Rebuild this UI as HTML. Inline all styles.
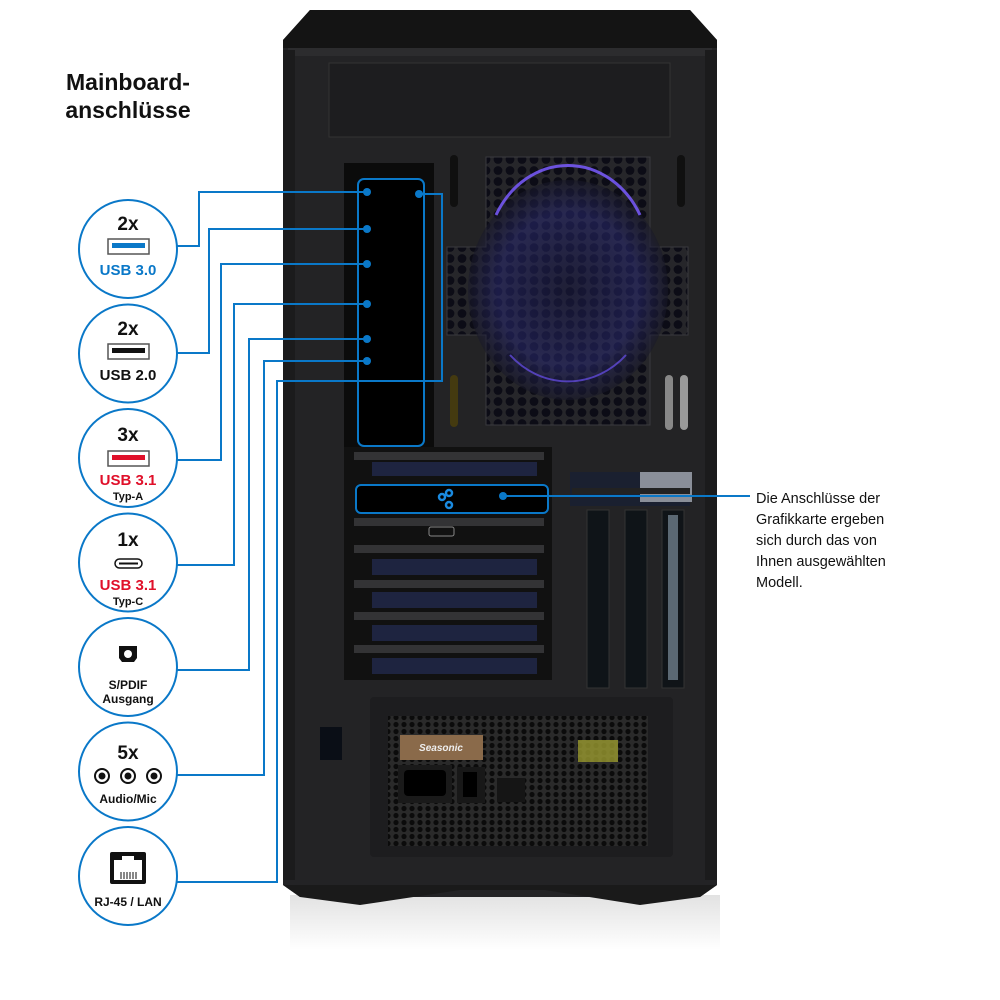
<!DOCTYPE html>
<html><head><meta charset="utf-8"><style>
body{margin:0;background:#fff;width:1000px;height:1000px;overflow:hidden}
svg{display:block;font-family:"Liberation Sans",sans-serif}
</style></head><body>
<svg width="1000" height="1000" viewBox="0 0 1000 1000" xmlns="http://www.w3.org/2000/svg">
<defs>
<pattern id="hex" width="12" height="11" patternUnits="userSpaceOnUse">
<rect width="12" height="11" fill="#26262a"/>
<circle cx="6" cy="5.5" r="4.4" fill="#0c0c16"/>
</pattern>
<pattern id="hex2" width="8" height="7" patternUnits="userSpaceOnUse">
<rect width="8" height="7" fill="#2a2a2a"/>
<circle cx="4" cy="3.5" r="2.6" fill="#0b0b0b"/>
</pattern>
<linearGradient id="shadow" x1="0" y1="0" x2="0" y2="1">
<stop offset="0" stop-color="#e2e2e2"/><stop offset="1" stop-color="#fff"/>
</linearGradient>
<radialGradient id="glow" cx="0.5" cy="0.5" r="0.5">
<stop offset="0" stop-color="#1a1a40"/><stop offset="0.7" stop-color="#2a2a70"/><stop offset="1" stop-color="#181828"/>
</radialGradient>
</defs>
<rect x="290" y="895" width="430" height="55" fill="url(#shadow)"/>
<path d="M283 40 L310 10 L690 10 L717 40 L717 885 L700 897 L300 897 L283 885 Z" fill="#232325"/>
<path d="M283 40 L310 10 L690 10 L717 40 L717 48 L283 48 Z" fill="#141414"/>
<rect x="288" y="48" width="424" height="8" fill="#2c2c2e"/>
<rect x="283" y="50" width="12" height="830" fill="#1b1b1c"/>
<rect x="705" y="50" width="12" height="830" fill="#1b1b1c"/>
<rect x="329" y="63" width="341" height="74" fill="#1d1d1f" stroke="#333" stroke-width="1"/>
<!-- fan grille -->
<path d="M486 157 L650 157 L650 247 L688 247 L688 335 L650 335 L650 425 L486 425 L486 335 L447 335 L447 247 L486 247 Z" fill="url(#hex)" stroke="#3a3a3e"/>
<ellipse cx="568" cy="290" rx="100" ry="110" fill="url(#glow)" opacity="0.55"/>
<path d="M496 215 A82 95 0 0 1 640 215" fill="none" stroke="#7a5cff" stroke-width="3" opacity="0.85"/>
<path d="M510 355 A82 90 0 0 0 626 355" fill="none" stroke="#6a50ee" stroke-width="2" opacity="0.7"/>
<rect x="450" y="155" width="8" height="52" rx="4" fill="#101010"/>
<rect x="677" y="155" width="8" height="52" rx="4" fill="#101010"/>
<rect x="665" y="375" width="8" height="55" rx="4" fill="#888"/>
<rect x="680" y="375" width="8" height="55" rx="4" fill="#999"/>
<rect x="450" y="375" width="8" height="52" rx="4" fill="#443a10"/>
<!-- IO opening -->
<rect x="344" y="163" width="90" height="284" fill="#0b0b0b"/>
<rect x="358" y="179" width="66" height="267" rx="6" fill="#000" stroke="#0a78c8" stroke-width="2"/>
<!-- PCI area -->
<rect x="344" y="447" width="208" height="233" fill="#111"/>
<g fill="#333335">
<rect x="354" y="452" width="190" height="8"/>
<rect x="354" y="518" width="190" height="8"/>
<rect x="354" y="545" width="190" height="8"/>
<rect x="354" y="580" width="190" height="8"/>
<rect x="354" y="612" width="190" height="8"/>
<rect x="354" y="645" width="190" height="8"/>
</g>
<g fill="#1e2440">
<rect x="372" y="462" width="165" height="14"/>
<rect x="372" y="559" width="165" height="16"/>
<rect x="372" y="592" width="165" height="16"/>
<rect x="372" y="625" width="165" height="16"/>
<rect x="372" y="658" width="165" height="16"/>
</g>
<rect x="356" y="485" width="192" height="28" rx="5" fill="#000" stroke="#0a78c8" stroke-width="2"/>
<g fill="none" stroke="#1a8ae0" stroke-width="2.5">
<circle cx="442" cy="497" r="3"/><circle cx="449" cy="493" r="3"/><circle cx="449" cy="505" r="3"/>
</g>
<rect x="429" y="527" width="25" height="9" rx="2" fill="none" stroke="#888"/>
<!-- right slots -->
<rect x="570" y="472" width="120" height="34" fill="#1a2030"/>
<rect x="640" y="472" width="52" height="30" fill="#8a8f99"/>
<rect x="587" y="510" width="22" height="178" fill="#0f1418" stroke="#333"/>
<rect x="625" y="510" width="22" height="178" fill="#0f1418" stroke="#333"/>
<rect x="662" y="510" width="22" height="178" fill="#101418" stroke="#333"/>
<rect x="668" y="515" width="10" height="165" fill="#8da0b0" opacity="0.6"/>
<rect x="572" y="488" width="118" height="6" fill="#222"/>
<!-- PSU -->
<rect x="370" y="697" width="303" height="160" rx="4" fill="#1d1d1f"/>
<rect x="388" y="716" width="260" height="130" fill="url(#hex2)"/>
<rect x="578" y="740" width="40" height="22" fill="#9a9a30" opacity="0.8"/>
<rect x="400" y="735" width="83" height="25" fill="#8a6a4a"/>
<text x="441" y="751" font-size="10" font-weight="bold" fill="#eee" text-anchor="middle" font-style="italic">Seasonic</text>
<rect x="398" y="765" width="54" height="38" fill="#1a1a1a"/>
<rect x="404" y="770" width="42" height="26" rx="4" fill="#000"/>
<rect x="457" y="767" width="28" height="36" fill="#181818"/>
<rect x="463" y="772" width="14" height="25" fill="#000"/>
<rect x="497" y="778" width="28" height="24" fill="#151515"/>
<rect x="320" y="727" width="22" height="33" fill="#0a0e16"/>
<path d="M283 885 L300 897 L360 905 L460 890 L545 890 L640 905 L700 897 L717 885 Z" fill="#1a1a1a"/>
<!-- connectors -->
<g fill="none" stroke="#0a78c8" stroke-width="2">
<circle cx="128" cy="249" r="49"/>
<circle cx="128" cy="353.5" r="49"/>
<circle cx="128" cy="458" r="49"/>
<circle cx="128" cy="562.5" r="49"/>
<circle cx="128" cy="667" r="49"/>
<circle cx="128" cy="771.5" r="49"/>
<circle cx="128" cy="876" r="49"/>
<polyline points="177,246 199,246 199,192 367,192"/>
<polyline points="177,353 209,353 209,229 367,229"/>
<polyline points="177,460 221,460 221,264 367,264"/>
<polyline points="177,565 234,565 234,304 367,304"/>
<polyline points="177,670 249,670 249,339 367,339"/>
<polyline points="177,775 264,775 264,361 367,361"/>
<polyline points="177,882 277,882 277,381 442,381 442,194 419,194"/>
<line x1="503" y1="496" x2="750" y2="496"/>
</g>
<g fill="#0a78c8">
<circle cx="367" cy="192" r="4"/><circle cx="367" cy="229" r="4"/><circle cx="367" cy="264" r="4"/>
<circle cx="367" cy="304" r="4"/><circle cx="367" cy="339" r="4"/><circle cx="367" cy="361" r="4"/>
<circle cx="419" cy="194" r="4"/><circle cx="503" cy="496" r="4"/>
</g>
<g font-weight="bold" font-size="23" fill="#111" text-anchor="middle">
<text x="128" y="90">Mainboard-</text>
<text x="128" y="118">anschlüsse</text>
</g>
<g font-weight="bold" text-anchor="middle" fill="#111">
<text x="128" y="230" font-size="19">2x</text>
<rect x="108" y="239" width="41" height="15" fill="#fff" stroke="#555" stroke-width="1.5"/>
<rect x="112" y="243" width="33" height="5" fill="#0a78c8"/>
<text x="128" y="275" font-size="15" fill="#0a78c8">USB 3.0</text>
<text x="128" y="335" font-size="19">2x</text>
<rect x="108" y="344" width="41" height="15" fill="#fff" stroke="#555" stroke-width="1.5"/>
<rect x="112" y="348" width="33" height="5" fill="#111"/>
<text x="128" y="380" font-size="15">USB 2.0</text>
<text x="128" y="441" font-size="19">3x</text>
<rect x="108" y="451" width="41" height="15" fill="#fff" stroke="#555" stroke-width="1.5"/>
<rect x="112" y="455" width="33" height="5" fill="#e0102a"/>
<text x="128" y="485" font-size="15" fill="#e0102a">USB 3.1</text>
<text x="128" y="500" font-size="11">Typ-A</text>
<text x="128" y="546" font-size="19">1x</text>
<rect x="115" y="559" width="27" height="9" rx="4.5" fill="#fff" stroke="#111" stroke-width="1.5"/>
<line x1="119" y1="563.5" x2="138" y2="563.5" stroke="#111" stroke-width="2"/>
<text x="128" y="590" font-size="15" fill="#e0102a">USB 3.1</text>
<text x="128" y="605" font-size="11">Typ-C</text>
<path d="M119 646 h18 v12 l-3 4 h-12 l-3 -4 z" fill="#111"/>
<circle cx="128" cy="654" r="4" fill="#fff"/>
<text x="128" y="689" font-size="12">S/PDIF</text>
<text x="128" y="703" font-size="12">Ausgang</text>
<text x="128" y="759" font-size="19">5x</text>
<g fill="#fff" stroke="#111" stroke-width="2"><circle cx="102" cy="776" r="7"/><circle cx="128" cy="776" r="7"/><circle cx="154" cy="776" r="7"/></g>
<circle cx="102" cy="776" r="3.5"/><circle cx="128" cy="776" r="3.5"/><circle cx="154" cy="776" r="3.5"/>
<text x="128" y="803" font-size="12">Audio/Mic</text>
<rect x="110" y="852" width="36" height="32" rx="2" fill="#111"/>
<path d="M114 868 v-8 h8 v-4 h12 v4 h8 v20 h-28 z" fill="#fff"/>
<g stroke="#111" stroke-width="1"><line x1="121" y1="872" x2="121" y2="879"/><line x1="124" y1="872" x2="124" y2="879"/><line x1="127" y1="872" x2="127" y2="879"/><line x1="130" y1="872" x2="130" y2="879"/><line x1="133" y1="872" x2="133" y2="879"/><line x1="136" y1="872" x2="136" y2="879"/></g>
<text x="128" y="906" font-size="12">RJ-45 / LAN</text>
</g>
<g font-size="14.5" fill="#111">
<text x="756" y="503">Die Anschlüsse der</text>
<text x="756" y="524">Grafikkarte ergeben</text>
<text x="756" y="545">sich durch das von</text>
<text x="756" y="566">Ihnen ausgewählten</text>
<text x="756" y="587">Modell.</text>
</g>
</svg>
</body></html>
